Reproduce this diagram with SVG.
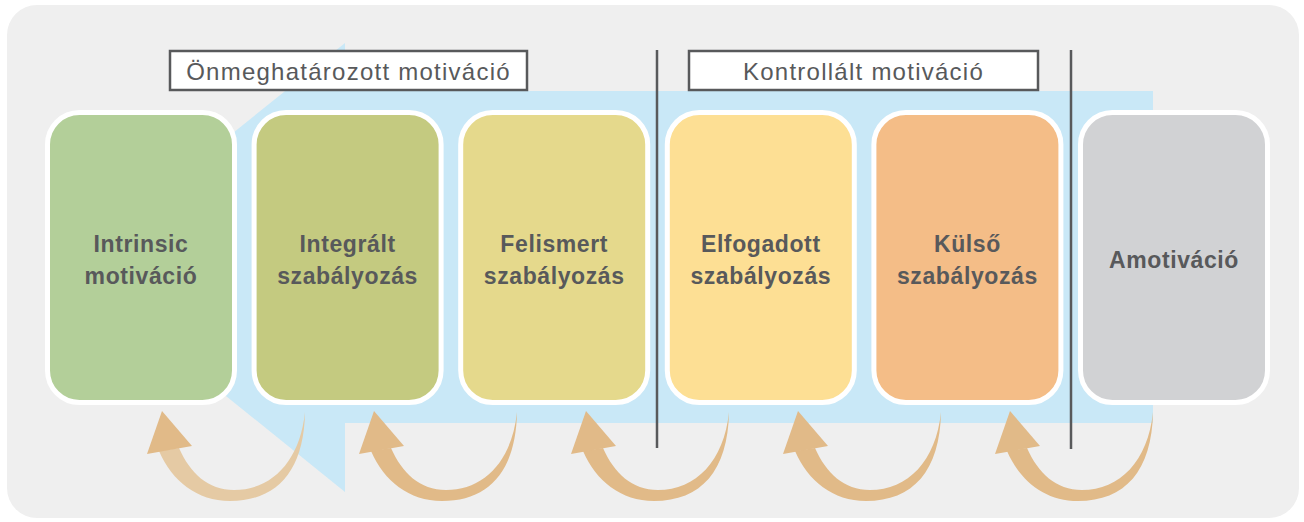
<svg xmlns="http://www.w3.org/2000/svg" width="1304" height="522" viewBox="0 0 1304 522">
<style>
.node rect{stroke:#fff;stroke-width:5}
.nt{font-family:"Liberation Sans",Arial,sans-serif;font-weight:bold;font-size:23px;letter-spacing:0.6px;fill:#58595B;text-anchor:middle}
.lt{font-family:"Liberation Sans",Arial,sans-serif;font-size:24px;letter-spacing:1.25px;fill:#58595B;text-anchor:middle}
.lb{fill:#fff;stroke:#58595B;stroke-width:2.5}
.vl{stroke:#58595B;stroke-width:2.5}
.arr{fill:#E1BA88}
</style>
<defs>
<path id="shaft" d="M17,37 C28,62 46,79 72,79 C110,79 138,50 143,1 C142,60 115,90 68,90 C35,90 10,70 -3,40 Z"/>
<path id="head" d="M0,0 L30,35 L-15,43 Z"/>
</defs>
<rect x="7" y="5" width="1292" height="513" rx="30" fill="#EFEFEF"/>
<polygon points="345,43 66,267 345,492 345,423 1153,423 1153,91 345,91" fill="#C9E8F7"/>
<g id="labels">
<rect class="lb" x="170" y="51" width="357" height="39"/>
<text class="lt" x="348.5" y="80">Önmeghatározott motiváció</text>
<rect class="lb" x="689" y="51" width="349" height="39"/>
<text class="lt" x="863.5" y="80">Kontrollált motiváció</text>
</g>
<line class="vl" x1="657" y1="50" x2="657" y2="448"/>
<line class="vl" x1="1071" y1="50" x2="1071" y2="449"/>
<g id="n1" class="node"><rect x="47.5" y="112.5" width="187" height="290" rx="32" fill="#B3CF99"/><text class="nt" x="141" y="252">Intrinsic</text><text class="nt" x="141" y="283.5">motiváció</text></g>
<g id="n2" class="node"><rect x="254.1" y="112.5" width="187" height="290" rx="32" fill="#C4CA80"/><text class="nt" x="347.6" y="252">Integrált</text><text class="nt" x="347.6" y="283.5">szabályozás</text></g>
<g id="n3" class="node"><rect x="460.7" y="112.5" width="187" height="290" rx="32" fill="#E5D98C"/><text class="nt" x="554.2" y="252">Felismert</text><text class="nt" x="554.2" y="283.5">szabályozás</text></g>
<g id="n4" class="node"><rect x="667.3" y="112.5" width="187" height="290" rx="32" fill="#FDDF94"/><text class="nt" x="760.8" y="252">Elfogadott</text><text class="nt" x="760.8" y="283.5">szabályozás</text></g>
<g id="n5" class="node"><rect x="873.9" y="112.5" width="187" height="290" rx="32" fill="#F4BD87"/><text class="nt" x="967.4" y="252">Külső</text><text class="nt" x="967.4" y="283.5">szabályozás</text></g>
<g id="n6" class="node"><rect x="1080.5" y="112.5" width="187" height="290" rx="32" fill="#D1D2D4"/><text class="nt" x="1174" y="268">Amotiváció</text></g>
<g id="connectors">
<g transform="translate(162,411)"><use href="#shaft" fill="#E5CAA4"/><use href="#head" class="arr"/></g>
<g transform="translate(374,411)"><use href="#shaft" class="arr"/><use href="#head" class="arr"/></g>
<g transform="translate(586,411)"><use href="#shaft" class="arr"/><use href="#head" class="arr"/></g>
<g transform="translate(798,411)"><use href="#shaft" class="arr"/><use href="#head" class="arr"/></g>
<g transform="translate(1010,411)"><use href="#shaft" class="arr"/><use href="#head" class="arr"/></g>
</g>
</svg>
